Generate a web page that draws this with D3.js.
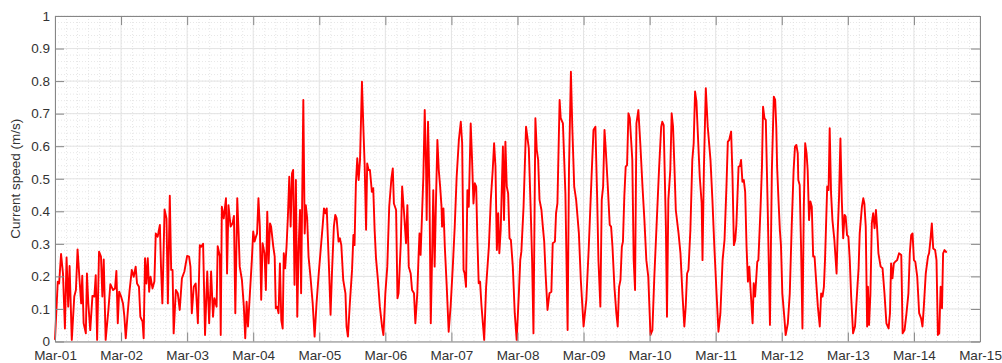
<!DOCTYPE html>
<html>
<head>
<meta charset="utf-8">
<script src="https://cdn.jsdelivr.net/npm/d3@7"></script>
<style>
  body { margin: 0; background: #fff; }
  svg { display: block; font-family: "Liberation Sans", Arial, sans-serif; }
</style>
</head>
<body>
<div class="vis-container"></div>
<script>
// hours since Mar-01 00:00, current speed (m/s)
var readings = [
  [0,0.005],[1.0,0.184],[1.5,0.178],[2.2,0.269],[2.9,0.209],[3.6,0.040],[4.2,0.258],[4.8,0.107],[5.3,0.232],[6.1,0.005],
  [7.0,0.138],[7.6,0.158],[8.2,0.283],[9.0,0.178],[9.5,0.117],[9.9,0.202],[10.4,0.056],[11.2,0.025],[11.6,0.209],[12.1,0.117],
  [12.8,0.035],[13.6,0.140],[14.3,0.138],[14.8,0.204],[15.3,0.005],[16.0,0.276],[16.7,0.261],[17.2,0.138],[17.7,0.252],[18.4,0.005],
  [19.4,0.097],[20.1,0.176],[21.1,0.158],[21.8,0.163],[22.3,0.217],[22.8,0.056],[23.3,0.153],[24.0,0.138],[24.7,0.117],[25.2,0.076],
  [25.7,0.010],[26.4,0.087],[27.1,0.158],[27.9,0.220],[28.6,0.199],[29.3,0.230],[29.8,0.178],[30.5,0.168],[31.0,0.076],[31.8,0.061],
  [32.2,0.010],[32.7,0.256],[33.2,0.178],[33.7,0.256],[34.2,0.153],[34.7,0.199],[35.4,0.163],[36.1,0.184],[36.6,0.332],[37.3,0.322],
  [38.1,0.358],[38.5,0.230],[39.0,0.117],[39.8,0.406],[40.5,0.378],[41.0,0.117],[41.7,0.448],[42.2,0.220],[42.7,0.220],[43.1,0.025],
  [43.9,0.158],[44.6,0.148],[45.3,0.097],[46.1,0.194],[47.0,0.215],[48.0,0.263],[48.7,0.261],[49.2,0.230],[49.7,0.087],[50.4,0.168],
  [51.1,0.178],[51.9,0.056],[52.6,0.296],[53.1,0.291],[53.8,0.300],[54.5,0.020],[55.3,0.215],[56.0,0.056],[56.7,0.215],[57.4,0.076],
  [57.9,0.133],[58.7,0.107],[59.1,0.293],[59.9,0.261],[60.2,0.020],[60.6,0.414],[61.3,0.378],[62.1,0.440],[62.5,0.209],[63.0,0.419],
  [63.8,0.353],[64.5,0.363],[65.0,0.386],[65.5,0.087],
  [66.2,0.440],[66.7,0.332],[67.1,0.230],[67.9,0.189],[68.6,0.107],[69.1,0.010],[69.6,0.122],[70.1,0.046],[70.8,0.148],[71.5,0.250],
  [72.0,0.338],[72.5,0.307],[73.0,0.322],[73.4,0.332],[73.9,0.440],[74.4,0.353],[74.9,0.128],[75.4,0.302],[76.1,0.271],[76.6,0.158],
  [77.1,0.399],[77.6,0.240],[78.1,0.363],[78.5,0.353],[79.3,0.291],[79.8,0.261],[80.2,0.102],[80.7,0.107],[81.2,0.087],[81.7,0.240],
  [82.2,0.066],[82.7,0.040],[83.1,0.271],[83.6,0.225],[84.1,0.291],[84.6,0.384],[85.1,0.506],[85.6,0.353],[86.1,0.517],[86.5,0.527],
  [87.0,0.174],[87.5,0.496],[88.0,0.076],[88.5,0.291],[89.0,0.404],[89.4,0.148],[90.2,0.742],[90.7,0.332],[91.1,0.419],[91.6,0.378],
  [92.1,0.261],[92.8,0.199],[93.6,0.117],[94.3,0.015],[95.0,0.117],[95.8,0.209],[96.5,0.281],[97.2,0.353],[97.7,0.409],[98.2,0.394],
  [98.7,0.409],[99.1,0.322],[99.6,0.209],[100.1,0.082],[100.6,0.209],[101.3,0.353],[101.8,0.389],[102.3,0.378],[103.0,0.307],[103.5,0.317],
  [104.0,0.296],[104.7,0.189],[105.5,0.148],[105.9,0.046],[106.4,0.015],[107.1,0.117],[107.9,0.220],[108.4,0.327],[108.8,0.296],[109.3,0.486],
  [109.8,0.563],[110.3,0.496],[110.8,0.558],[111.5,0.798],[112.0,0.660],[112.5,0.537],[113.0,0.343],[113.4,0.547],[113.9,0.527],[114.4,0.527],
  [115.1,0.460],[115.6,0.471],[116.1,0.343],[116.6,0.256],[117.3,0.189],[118.0,0.107],[118.8,0.046],[119.3,0.020],[120.0,0.148],[120.7,0.230],
  [121.4,0.414],[122.2,0.501],[122.7,0.532],[123.1,0.424],[123.9,0.404],[124.4,0.133],[124.8,0.148],[125.6,0.302],[126.1,0.476],[126.8,0.394],
  [127.5,0.302],[128.0,0.419],[128.5,0.230],[129.2,0.209],[129.7,0.158],[130.4,0.148],[130.9,0.056],
  [131.6,0.148],[132.1,0.271],[132.4,0.332],[132.8,0.266],[133.3,0.384],[133.8,0.506],[134.3,0.711],[134.8,0.527],[135.0,0.373],[135.5,0.675],
  [136.0,0.476],[136.5,0.056],[137.0,0.271],[137.4,0.465],[137.9,0.230],[138.4,0.435],[138.9,0.619],[139.4,0.527],[139.9,0.476],[140.4,0.414],
  [140.6,0.353],[141.1,0.409],[141.6,0.291],[142.3,0.168],[143.0,0.030],[143.7,0.107],[144.5,0.230],[145.2,0.353],[145.9,0.506],[146.7,0.619],
  [147.4,0.675],[147.9,0.609],[148.4,0.220],[148.8,0.209],[149.3,0.168],[149.8,0.465],[150.3,0.414],[151.0,0.670],[151.5,0.558],[152.0,0.424],
  [152.5,0.486],[153.0,0.476],[153.4,0.322],[153.9,0.179],[154.4,0.184],[154.9,0.112],[155.9,0.005],[156.6,0.168],[157.6,0.291],[158.3,0.435],
  [159.0,0.527],[159.5,0.609],[160.0,0.537],[160.5,0.281],[161.0,0.394],[161.4,0.271],[161.9,0.343],[162.7,0.599],[163.1,0.373],[163.6,0.614],
  [164.1,0.476],[164.6,0.455],[165.1,0.317],[165.6,0.312],[166.3,0.230],[167.0,0.087],[167.7,0.005],[168.5,0.148],[169.0,0.250],[169.4,0.276],
  [170.2,0.414],[171.1,0.660],[172.1,0.594],[172.8,0.404],[173.3,0.250],[173.8,0.025],[174.5,0.686],[175.0,0.588],[175.5,0.558],[176.0,0.435],
  [176.7,0.404],[177.2,0.353],[177.7,0.307],[178.2,0.209],[178.9,0.097],[179.6,0.148],[180.3,0.153],[180.8,0.302],[181.6,0.307],[182.0,0.394],
  [182.5,0.424],[183.3,0.742],[183.7,0.686],[184.5,0.670],[185.4,0.455],[186.2,0.035],[186.7,0.527],[187.4,0.829],[187.9,0.660],[188.6,0.476],
  [189.3,0.435],[190.3,0.332],[191.0,0.189],[192.0,0.046],[193.0,0.128],[193.9,0.291],[194.9,0.506],[195.6,0.650],[196.3,0.660],
  [196.9,0.455],[197.4,0.250],[198.1,0.107],[198.6,0.435],[199.1,0.476],[199.6,0.650],[200.0,0.599],[200.8,0.476],[201.5,0.358],[202.0,0.353],
  [202.5,0.291],[203.2,0.168],[203.9,0.087],[204.4,0.046],[204.9,0.168],[205.4,0.189],[205.9,0.291],[206.3,0.307],[206.8,0.445],[207.3,0.537],
  [207.8,0.542],[208.3,0.701],[208.8,0.686],[209.2,0.629],[209.7,0.558],[210.2,0.250],[210.7,0.158],[211.2,0.670],[211.9,0.711],[212.6,0.609],
  [213.4,0.476],[214.1,0.373],[214.8,0.250],[215.5,0.199],[216.3,0.020],[217.0,0.035],[217.7,0.199],[218.5,0.353],[219.4,0.527],[220.2,0.660],
  [220.6,0.675],[221.1,0.665],[221.9,0.353],[222.3,0.076],[222.8,0.435],[223.5,0.527],[224.0,0.701],[224.5,0.660],[225.0,0.537],[225.5,0.404],
  [226.5,0.332],[227.2,0.271],[227.9,0.148],[228.6,0.046],[229.1,0.107],[229.6,0.209],[230.1,0.220],[230.8,0.343],[231.5,0.558],[232.0,0.609],
  [232.5,0.768],[233.0,0.737],[233.5,0.640],[234.2,0.506],[234.9,0.424],[235.2,0.250],[235.7,0.527],[236.4,0.778],[237.1,0.660],[238.1,0.558],
  [238.8,0.435],[239.5,0.291],[240.3,0.148],[241.0,0.030],[241.7,0.087],[242.5,0.250],[243.2,0.312],[243.9,0.476],[244.4,0.614],[244.9,0.619],
  [245.6,0.645],[246.1,0.506],[246.6,0.296],[247.1,0.312],[247.5,0.358],[248.3,0.537],[248.8,0.539],[249.2,0.558],[249.7,0.491],[250.2,0.496],
  [250.7,0.460],[251.2,0.291],[251.7,0.184],[252.2,0.230],[252.6,0.168],[253.4,0.056],[253.8,0.179],[254.3,0.138],[255.1,0.245],[255.5,0.250],
  [256.3,0.414],[256.8,0.537],[257.2,0.721],[257.7,0.686],[258.2,0.680],[258.9,0.404],[259.7,0.051],[260.4,0.527],[261.1,0.752],[261.6,0.742],
  [262.0,0.660],[262.3,0.537],[262.8,0.435],[263.3,0.343],[263.7,0.296],[264.2,0.148],[265.0,0.066],[265.4,0.020],[266.2,0.056],[266.9,0.148],
  [267.6,0.353],[268.3,0.527],[268.8,0.599],[269.3,0.604],[269.8,0.578],[270.0,0.496],[270.5,0.481],[271.0,0.291],[271.5,0.040],[272.0,0.414],
  [272.5,0.609],[273.0,0.578],[273.4,0.527],[273.9,0.373],[274.4,0.430],[274.9,0.414],[275.4,0.261],[275.9,0.261],[276.3,0.209],[277.1,0.107],
  [277.8,0.046],[278.3,0.148],[278.8,0.138],[279.3,0.168],[279.7,0.250],[280.5,0.476],[281.0,0.465],[281.4,0.655],[281.9,0.455],[282.4,0.373],
  [283.1,0.312],[283.9,0.209],[284.3,0.332],[284.8,0.445],[285.3,0.624],[285.8,0.435],[286.3,0.317],[286.8,0.389],[287.2,0.384],[287.7,0.327],
  [288.2,0.322],[288.7,0.250],[289.2,0.138],[289.9,0.025],[290.6,0.046],[291.4,0.158],[291.9,0.225],[292.3,0.332],[293.1,0.414],[293.6,0.440],
  [294.0,0.424],[294.5,0.353],[295.0,0.046],[295.3,0.168],[295.7,0.051],[296.2,0.148],[296.7,0.363],[297.2,0.394],[297.7,0.348],[298.2,0.404],
  [298.6,0.353],[299.1,0.271],[299.9,0.230],[300.6,0.225],[301.3,0.148],[302.0,0.056],[302.8,0.040],[303.3,0.087],[303.7,0.240],[304.2,0.194],
  [304.7,0.240],[305.2,0.245],[305.9,0.250],[306.6,0.271],[307.4,0.266],[307.9,0.025],[308.6,0.035],[309.3,0.087],[310.0,0.148],[310.5,0.271],
  [311.0,0.327],[311.5,0.332],[312.0,0.250],[312.5,0.245],[313.2,0.199],[313.9,0.087],[314.6,0.071],[315.1,0.046],[315.6,0.107],[316.3,0.209],
  [317.1,0.261],[317.5,0.271],[318.0,0.312],[318.5,0.363],[319.0,0.286],[319.7,0.281],[320.2,0.250],[320.7,0.020],[321.2,0.025],[321.7,0.168],
  [322.2,0.102],[322.6,0.271],[323.1,0.281],[323.9,0.273]
];

var yTicks = [0, 0.1, 0.2, 0.3, 0.4, 0.5, 0.6, 0.7, 0.8, 0.9, 1];
var yLabel = "Current speed (m/s)";
var startDay = Date.UTC(2021, 2, 1);
var endDay = Date.UTC(2021, 2, 15);

var width = 1002, height = 363;
var plotLeft = 55, plotRight = 980, plotTop = 16, plotBottom = 341.5;
var axisGray = "#868686", textGray = "#333";

var svg = d3.select(".vis-container").append("svg")
  .attr("width", width)
  .attr("height", height);

var x = d3.scaleUtc()
  .domain([new Date(startDay), new Date(endDay)])
  .range([plotLeft, plotRight]);

var y = d3.scaleLinear()
  .domain([0, 1])
  .range([plotBottom, plotTop]);

function toDate(h) { return new Date(startDay + h * 3600000); }

var grid = svg.append("g");

//minor grid, dotted
grid.selectAll(".minor-x")
  .data(d3.utcHour.every(4).range(x.domain()[0], x.domain()[1]))
  .enter().append("line")
  .attr("x1", function(d) { return x(d) + 0.5; })
  .attr("x2", function(d) { return x(d) + 0.5; })
  .attr("y1", plotTop).attr("y2", plotBottom)
  .attr("stroke", "#dcdcdc").attr("stroke-width", 0.7)
  .attr("stroke-dasharray", "1,2");

grid.selectAll(".minor-y")
  .data(y.ticks(50))
  .enter().append("line")
  .attr("x1", plotLeft).attr("x2", plotRight)
  .attr("y1", function(d) { return y(d); })
  .attr("y2", function(d) { return y(d); })
  .attr("stroke", "#dcdcdc").attr("stroke-width", 0.7)
  .attr("stroke-dasharray", "1,2");

//major grid
grid.selectAll(".major-x")
  .data(x.ticks(d3.utcDay.every(1)))
  .enter().append("line")
  .attr("x1", function(d) { return x(d); })
  .attr("x2", function(d) { return x(d); })
  .attr("y1", plotTop).attr("y2", plotBottom)
  .attr("stroke", "#e4e4e4").attr("stroke-width", 1);

grid.selectAll(".major-y")
  .data(yTicks)
  .enter().append("line")
  .attr("x1", plotLeft).attr("x2", plotRight)
  .attr("y1", function(d) { return y(d); })
  .attr("y2", function(d) { return y(d); })
  .attr("stroke", "#e4e4e4").attr("stroke-width", 1);

// the speed trace
var line = d3.line()
  .x(function(d) { return x(toDate(d[0])); })
  .y(function(d) { return y(d[1]); });

svg.append("path")
  .datum(readings)
  .attr("d", line)
  .attr("fill", "none")
  .attr("stroke", "#ff0000")
  .attr("stroke-width", 1.9)
  .attr("stroke-linejoin", "round");

// axes, ticks pointing inward
var fmt = d3.utcFormat("%b-%d");

var xAxis = svg.append("g")
  .attr("transform", "translate(0," + plotBottom + ")")
  .call(d3.axisBottom(x).ticks(d3.utcDay.every(1)).tickFormat(fmt)
    .tickSizeInner(-9).tickSizeOuter(0).tickPadding(9));

var xTop = svg.append("g")
  .attr("transform", "translate(0," + plotTop + ")")
  .call(d3.axisTop(x).ticks(d3.utcDay.every(1)).tickFormat("")
    .tickSizeInner(-9).tickSizeOuter(0));

var yAxis = svg.append("g")
  .attr("transform", "translate(" + plotLeft + ",0)")
  .call(d3.axisLeft(y).tickValues(yTicks).tickFormat(d3.format(".1~f"))
    .tickSizeInner(-9).tickSizeOuter(0).tickPadding(5));

var yRight = svg.append("g")
  .attr("transform", "translate(" + plotRight + ",0)")
  .call(d3.axisRight(y).tickValues(yTicks).tickFormat("")
    .tickSizeInner(-9).tickSizeOuter(0));

[xAxis, xTop, yAxis, yRight].forEach(function(g) {
  g.selectAll("path").attr("stroke", axisGray);
  g.selectAll("line").attr("stroke", axisGray);
  g.selectAll("text")
    .attr("fill", textGray)
    .style("font-size", "13.5px")
    .style("font-family", "'Liberation Sans', Arial, sans-serif");
});

svg.append("text")
  .attr("transform", "translate(20," + ((plotTop + plotBottom) / 2) + ") rotate(-90)")
  .attr("text-anchor", "middle")
  .attr("fill", textGray)
  .style("font-size", "13.5px")
  .text(yLabel);
</script>
</body>
</html>
